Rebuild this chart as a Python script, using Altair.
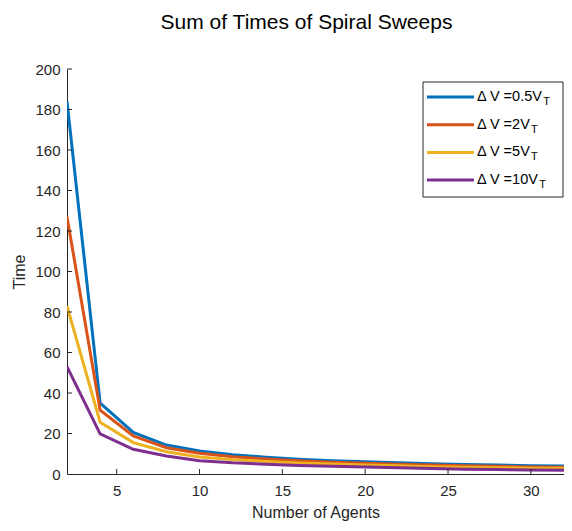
import altair as alt
import pandas as pd

# ---- data ----
agents = [2, 4, 6, 8, 10, 12, 14, 16, 18, 20, 22, 24, 26, 28, 30, 32]
series_names = ["0.5", "2", "5", "10"]
t_05 = [184, 35, 20.5, 14.3, 11.4, 9.5, 8.3, 7.3, 6.6, 6.1, 5.6, 5.1, 4.7, 4.4, 4.1, 3.9]
t_2 = [127, 31.5, 18.8, 13.0, 10.2, 8.5, 7.4, 6.5, 5.8, 5.3, 4.8, 4.4, 4.1, 3.8, 3.5, 3.3]
t_5 = [83, 25.6, 15.5, 11.0, 8.4, 7.1, 6.2, 5.4, 4.9, 4.5, 4.1, 3.6, 3.3, 3.1, 2.9, 2.8]
t_10 = [53, 19.8, 12.2, 8.9, 6.6, 5.5, 4.8, 4.2, 3.8, 3.5, 3.1, 2.7, 2.4, 2.2, 2.0, 1.8]
colors = ["#0072BD", "#D95319", "#EDB120", "#7E2F8E"]
x_ticks = [5, 10, 15, 20, 25, 30]
y_ticks = [0, 20, 40, 60, 80, 100, 120, 140, 160, 180, 200]

FONT = "Liberation Sans"
AX = "#262626"
W, H = 497, 405

rows = []
for name, vals in zip(series_names, [t_05, t_2, t_5, t_10]):
    for a, v in zip(agents, vals):
        rows.append({"agents": a, "time": v, "series": name})
df = pd.DataFrame(rows)

xscale = alt.Scale(domain=[2, 32], nice=False, zero=False)
yscale = alt.Scale(domain=[0, 200], nice=False)

lines = alt.Chart(df).mark_line(strokeWidth=3, clip=True).encode(
    x=alt.X("agents:Q", scale=xscale,
            axis=alt.Axis(values=x_ticks, ticks=False, grid=False, labelPadding=9,
                          title="Number of Agents", titlePadding=6)),
    y=alt.Y("time:Q", scale=yscale,
            axis=alt.Axis(values=y_ticks, ticks=False, grid=False, labelPadding=7,
                          title="Time", titlePadding=7)),
    color=alt.Color("series:N", scale=alt.Scale(domain=series_names, range=colors), legend=None),
    order=alt.Order("agents:Q"),
)

# inward ticks (MATLAB style)
xt = alt.Chart(pd.DataFrame({"v": x_ticks})).mark_rule(color=AX, strokeWidth=1).encode(
    x=alt.X("v:Q", scale=xscale), y=alt.value(H), y2=alt.value(H - 5))
yt = alt.Chart(pd.DataFrame({"v": y_ticks[1:]})).mark_rule(color=AX, strokeWidth=1).encode(
    y=alt.Y("v:Q", scale=yscale), x=alt.value(0), x2=alt.value(5))

# manual legend with subscript T
char_w = {"Δ": 0.667, " ": 0.278, "V": 0.667, "=": 0.584, "0": 0.556, ".": 0.278,
          "5": 0.556, "2": 0.556, "1": 0.556}
LFS = 14.5
bx0, bx1 = 356, 496
lx0, lx1, ltx = bx0 + 4, bx0 + 51, bx0 + 54
leg_rows = []
for i, (name, c) in enumerate(zip(series_names, colors)):
    lbl = "Δ V =" + name + "V"
    wid = sum(char_w.get(ch, 0.556) for ch in lbl) * LFS
    leg_rows.append({"series": name, "label": lbl, "ly": 28 + 27.7 * i,
                     "ty": 28 + 27.7 * i + 5, "tx": ltx + wid + 0.5})
ldf = pd.DataFrame(leg_rows)

box = alt.Chart(pd.DataFrame({"a": [0]})).mark_rect(fill="white", stroke=AX, strokeWidth=1).encode(
    x=alt.value(bx0), x2=alt.value(bx1), y=alt.value(13), y2=alt.value(128))
leg_lines = alt.Chart(ldf).mark_rule(strokeWidth=3).encode(
    x=alt.value(lx0), x2=alt.value(lx1), y=alt.Y("ly:Q", scale=None),
    color=alt.Color("series:N", scale=alt.Scale(domain=series_names, range=colors), legend=None))
leg_text = alt.Chart(ldf).mark_text(align="left", baseline="middle", fontSize=LFS, font=FONT,
                                    color="#000000").encode(
    x=alt.value(ltx), y=alt.Y("ly:Q", scale=None), text="label:N")
leg_sub = alt.Chart(ldf).mark_text(align="left", baseline="middle", fontSize=11, font=FONT,
                                   color="#000000").encode(
    x=alt.X("tx:Q", scale=None), y=alt.Y("ty:Q", scale=None), text=alt.value("T"))

chart = alt.layer(lines, xt, yt, box, leg_lines, leg_text, leg_sub).properties(
    width=W, height=H,
    title=alt.TitleParams("Sum of Times of Spiral Sweeps", fontSize=21, font=FONT,
                          fontWeight="normal", color="#000000", anchor="middle",
                          dx=-9, offset=29),
    autosize=alt.AutoSizeParams(type="none"),
    padding={"left": 59, "top": 61, "right": 0, "bottom": 49},
).configure(background="white").configure_view(stroke=None).configure_axis(
    domainColor=AX, labelColor=AX, titleColor=AX, labelFont=FONT, titleFont=FONT,
    labelFontSize=15, titleFontSize=16, titleFontWeight="normal", domainWidth=1,
)

chart.save("out.html", embed_options={"renderer": "svg", "actions": False})
